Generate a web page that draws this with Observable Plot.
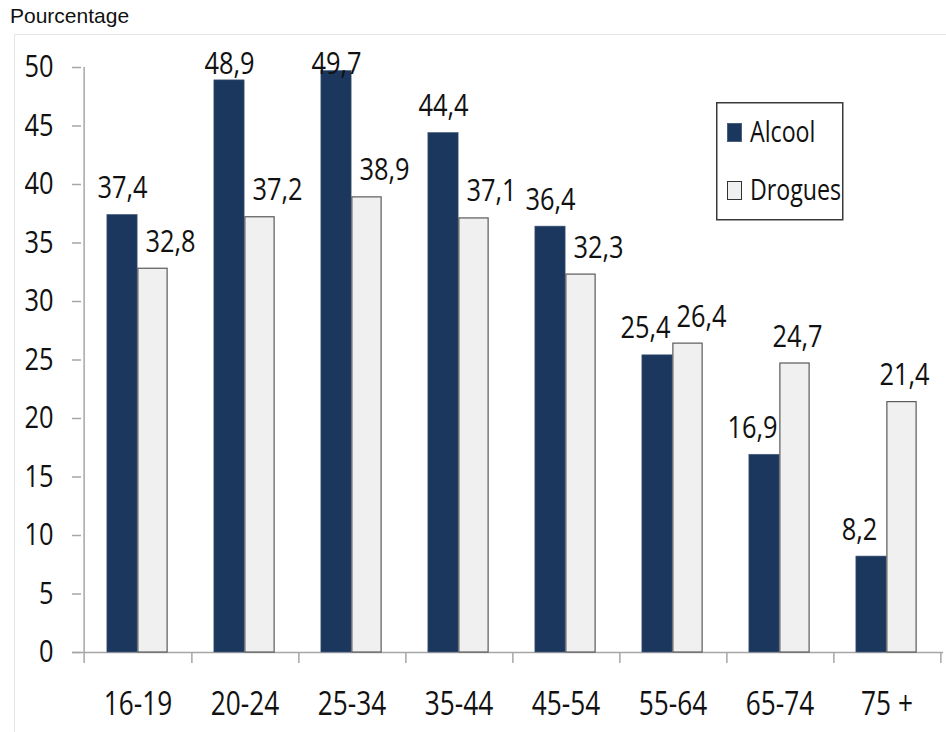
<!DOCTYPE html>
<html>
<head>
<meta charset="utf-8">
<script src="https://cdn.jsdelivr.net/npm/d3@7"></script>
<script src="https://cdn.jsdelivr.net/npm/@observablehq/plot@0.6"></script>
<style>
  body { margin: 0; background: #fff; overflow: hidden; }
  #wrap { position: relative; width: 946px; height: 732px; overflow: hidden; background: #fff; }
  #title { position: absolute; left: 10px; top: 4px; font: 21px "Liberation Sans", Arial, sans-serif; color: #111; white-space: nowrap; }
  #frame { position: absolute; left: 14px; top: 34px; width: 1000px; height: 1000px;
           border-top: 1.5px solid #e6e6e6; border-left: 1.5px solid #e6e6e6; }
  #chart { position: absolute; left: 0; top: 34px; }
  #legend { position: absolute; left: 716px; top: 102px; }
</style>
</head>
<body>
<div id="wrap">
  <div id="title">Pourcentage</div>
  <div id="frame"></div>
  <div id="chart"></div>
  <div id="legend"></div>
</div>
<script>
// Age groups and percentages for each series
const ages = ["16-19", "20-24", "25-34", "35-44", "45-54", "55-64", "65-74", "75 +"];
const alcool = [37.4, 48.9, 49.7, 44.4, 36.4, 25.4, 16.9, 8.2];
const drogues = [32.8, 37.2, 38.9, 37.1, 32.3, 26.4, 24.7, 21.4];
const seriesNames = ["Alcool", "Drogues"];
const yTicks = [0, 5, 10, 15, 20, 25, 30, 35, 40, 45, 50];

const rows = ages.map((age, i) => ({age, alcool: alcool[i], drogues: drogues[i]}));

// Styling
const font = '"Open Sans", "Liberation Sans", sans-serif';
const squeeze = 0.82; // horizontal compression applied to every label
const navy = "#1b375e";
const light = "#f0f0f0";
const edge = "#5a5a5a";
const axisGray = "#a6a6a6";
const fmt = v => v.toFixed(1).replace(".", ",");

// Narrow every text element around its own anchor point
function condense(root, k) {
  root.querySelectorAll("text").forEach(t => {
    const x = parseFloat(t.getAttribute("x")) || 0;
    t.removeAttribute("x");
    const tr = t.getAttribute("transform") || "";
    t.setAttribute("transform", `${tr} translate(${x},0) scale(${k},1)`);
  });
}

// Layout
const W = 946, H = 698;
const mL = 81, mR = 3, mT = 33, mB = 80;
const band = (W - mL - mR) / ages.length;
const half = band / 2;
const barW = 31;
const labelCeiling = 48; // value labels never rise above this level
const labelGap = -17;    // vertical offset of value labels above bar tops

// Value labels: moved sideways when the neighbouring bar of the pair would collide with them
const close = d => Math.abs(d.alcool - d.drogues) < 2;
const valueLabel = (key, filter, dx) => Plot.text(rows, {
  filter, x: "age", y: d => Math.min(d[key], labelCeiling), text: d => fmt(d[key]),
  dx, dy: labelGap, lineAnchor: "bottom", fontSize: 31, fill: "#111"
});

const chart = Plot.plot({
  width: W,
  height: H,
  marginLeft: mL,
  marginRight: mR,
  marginTop: mT,
  marginBottom: mB,
  style: {fontFamily: font, fontSize: "31px", color: "#111", background: "transparent", overflow: "visible"},
  x: {domain: ages, padding: 0, label: null},
  y: {domain: [0, d3.max(yTicks)], label: null},
  marks: [
    // baseline, extended left to meet the y ticks
    Plot.ruleY([0], {stroke: axisGray, strokeWidth: 1.5, insetLeft: -9}),
    // vertical axis line at the left edge of the first band
    Plot.ruleX([ages[0]], {x: d => d, dx: -half, y1: d3.max(yTicks), y2: 0, insetBottom: -11, stroke: axisGray, strokeWidth: 1.5}),
    // category separators below the baseline, at the right edge of each band
    Plot.ruleX(ages, {x: d => d, dx: half, y1: 0, y2: 0, insetBottom: -11, stroke: axisGray, strokeWidth: 1.5}),
    Plot.axisY({ticks: yTicks, tickSize: 9, tickPadding: 19, stroke: axisGray, strokeWidth: 1.5, tickFormat: d => d, fontSize: 31, fill: "#111", label: null}),
    Plot.axisX({tickSize: 0, tickPadding: 40, fontSize: 32, fill: "#111", label: null}),
    Plot.barY(rows, {x: "age", y: "alcool", fill: navy, stroke: "#4a5f7c", strokeWidth: 0.6, insetLeft: half - barW, insetRight: half}),
    Plot.barY(rows, {x: "age", y: "drogues", fill: light, stroke: edge, strokeWidth: 1.2, insetLeft: half, insetRight: half - barW + 1}),
    valueLabel("alcool", d => d.alcool >= d.drogues, -barW / 2),
    valueLabel("alcool", d => d.alcool < d.drogues, -barW / 2 - 12),
    valueLabel("drogues", d => d.alcool > d.drogues, barW / 2 + 17),
    valueLabel("drogues", d => d.alcool <= d.drogues && close(d), barW / 2 + 13),
    valueLabel("drogues", d => d.alcool <= d.drogues && !close(d), barW / 2 + 2)
  ]
});
condense(chart, squeeze);
document.getElementById("chart").appendChild(chart);

// Legend box
const swatch = {Alcool: {fill: navy, stroke: "#4a5f7c"}, Drogues: {fill: light, stroke: "#333"}};
const lg = d3.select("#legend").append("svg")
  .attr("width", 128).attr("height", 119)
  .style("font-family", font).style("font-size", "29px");
lg.append("rect")
  .attr("x", 0.75).attr("y", 0.75).attr("width", 126).attr("height", 117)
  .attr("fill", "#fff").attr("stroke", "#3a3a3a").attr("stroke-width", 1.5);
const item = lg.selectAll("g").data(seriesNames).join("g")
  .attr("transform", (d, i) => `translate(0,${i * 58})`);
item.append("rect")
  .attr("x", 11.5).attr("y", 21.5).attr("width", 14).attr("height", 18)
  .attr("fill", d => swatch[d].fill).attr("stroke", d => swatch[d].stroke).attr("stroke-width", 1);
item.append("text")
  .attr("x", 34).attr("y", 40.5).attr("fill", "#111").text(d => d);
condense(lg.node(), 0.8);
</script>
</body>
</html>
